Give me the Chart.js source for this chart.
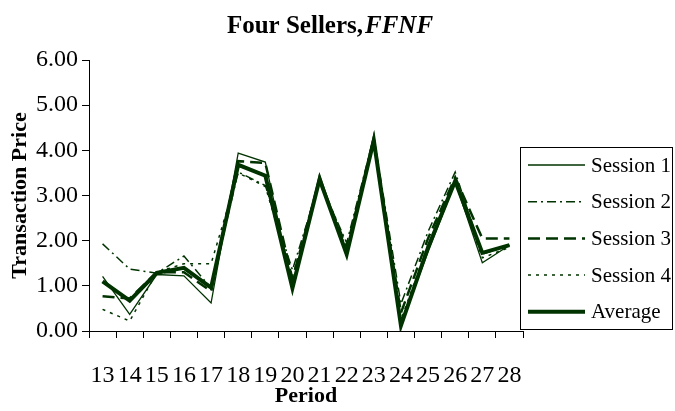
<!DOCTYPE html>
<html>
<head>
<meta charset="utf-8">
<script src="https://cdn.jsdelivr.net/npm/chart.js@4"></script>
<style>
  html, body { margin: 0; padding: 0; background: #fff; }
</style>
</head>
<body>
<canvas id="priceChart" width="675" height="411"></canvas>
<script>
const periods = ['13', '14', '15', '16', '17', '18', '19', '20', '21', '22', '23', '24', '25', '26', '27', '28'];
const session1 = [1.21, 0.37, 1.25, 1.22, 0.62, 3.94, 3.74, 1.00, 3.47, 1.65, 4.35, 0.15, 1.75, 3.30, 1.51, 1.90];
const session2 = [1.93, 1.37, 1.28, 1.66, 0.95, 3.52, 3.22, 1.35, 3.30, 1.95, 4.30, 0.60, 2.20, 3.52, 1.70, 1.90];
const session3 = [0.77, 0.72, 1.30, 1.30, 0.88, 3.76, 3.72, 1.15, 3.35, 1.85, 4.20, 0.40, 2.05, 3.40, 2.05, 2.05];
const session4 = [0.48, 0.22, 1.30, 1.49, 1.49, 3.50, 3.20, 1.20, 3.30, 1.80, 4.25, 0.25, 1.90, 3.30, 1.62, 1.85];
const average  = [1.10, 0.67, 1.29, 1.40, 0.96, 3.68, 3.44, 0.95, 3.36, 1.70, 4.22, 0.12, 1.85, 3.32, 1.73, 1.90];

const green = '#003300';
const serif = '"Liberation Serif", "Times New Roman", serif';

// title with italic part + boxed legend, drawn by hand
const decorations = {
  id: 'decorations',
  afterDraw(chart) {
    const ctx = chart.ctx;
    ctx.save();
    ctx.fillStyle = '#000';
    ctx.textBaseline = 'alphabetic';
    ctx.font = 'bold 25px ' + serif;
    const a = 'Four Sellers,';
    const wa = ctx.measureText(a).width;
    ctx.font = 'italic bold 25px ' + serif;
    const b = 'FFNF';
    const wb = ctx.measureText(b).width;
    let x = 330 - (wa + wb + 2) / 2;
    ctx.font = 'bold 25px ' + serif;
    ctx.fillText(a, x, 33);
    ctx.font = 'italic bold 25px ' + serif;
    ctx.fillText(b, x + wa + 2, 33);

    // legend
    ctx.strokeStyle = '#000';
    ctx.lineWidth = 1;
    ctx.setLineDash([]);
    ctx.strokeRect(520.5, 147.5, 152, 182);
    ctx.font = '21px ' + serif;
    ctx.textBaseline = 'middle';
    chart.data.datasets.forEach((ds, i) => {
      const y = 165 + i * 36.7;
      ctx.strokeStyle = ds.borderColor;
      ctx.lineWidth = ds.borderWidth;
      ctx.setLineDash(ds.borderDash || []);
      ctx.beginPath();
      ctx.moveTo(528, y);
      ctx.lineTo(585, y);
      ctx.stroke();
      ctx.setLineDash([]);
      ctx.fillStyle = '#000';
      ctx.fillText(ds.label, 591, y + 1);
    });
    ctx.restore();
  }
};

new Chart(document.getElementById('priceChart'), {
  type: 'line',
  data: {
    labels: periods,
    datasets: [
      { label: 'Session 1', data: session1, borderColor: green, borderWidth: 1.3, borderDash: [] },
      { label: 'Session 2', data: session2, borderColor: green, borderWidth: 1.5, borderDash: [9, 4, 2, 4] },
      { label: 'Session 3', data: session3, borderColor: green, borderWidth: 2.5, borderDash: [12, 6] },
      { label: 'Session 4', data: session4, borderColor: green, borderWidth: 1.5, borderDash: [3, 5] },
      { label: 'Average', data: average, borderColor: green, borderWidth: 4, borderDash: [], order: -1 }
    ]
  },
  options: {
    responsive: false,
    animation: false,
    devicePixelRatio: 1,
    elements: { point: { radius: 0 }, line: { tension: 0, fill: false } },
    layout: { padding: { top: 60, right: 152, left: 0, bottom: 0 } },
    plugins: {
      legend: { display: false },
      title: { display: false },
      tooltip: { enabled: false }
    },
    scales: {
      x: {
        offset: true,
        afterFit(scale) { scale.height = 80; },
        grid: { offset: true, drawOnChartArea: false, tickLength: 7, color: '#000' },
        border: { color: '#000', width: 1 },
        ticks: { color: '#000', font: { family: serif, size: 24 }, padding: 23, autoSkip: false, maxRotation: 0 },
        title: { display: true, text: 'Period', color: '#000', font: { family: serif, size: 22, weight: 'bold' }, padding: { top: 0, bottom: 1 } }
      },
      y: {
        min: 0,
        max: 6,
        afterFit(scale) { scale.width = 89; },
        grid: { drawOnChartArea: false, tickLength: 7, color: '#000' },
        border: { color: '#000', width: 1 },
        ticks: { stepSize: 1, color: '#000', font: { family: serif, size: 24 }, padding: 4, callback: v => v.toFixed(2) },
        title: { display: true, text: 'Transaction Price', color: '#000', font: { family: serif, size: 22, weight: 'bold' }, padding: { top: 7, bottom: 0 } }
      }
    }
  },
  plugins: [decorations]
});
</script>
</body>
</html>
